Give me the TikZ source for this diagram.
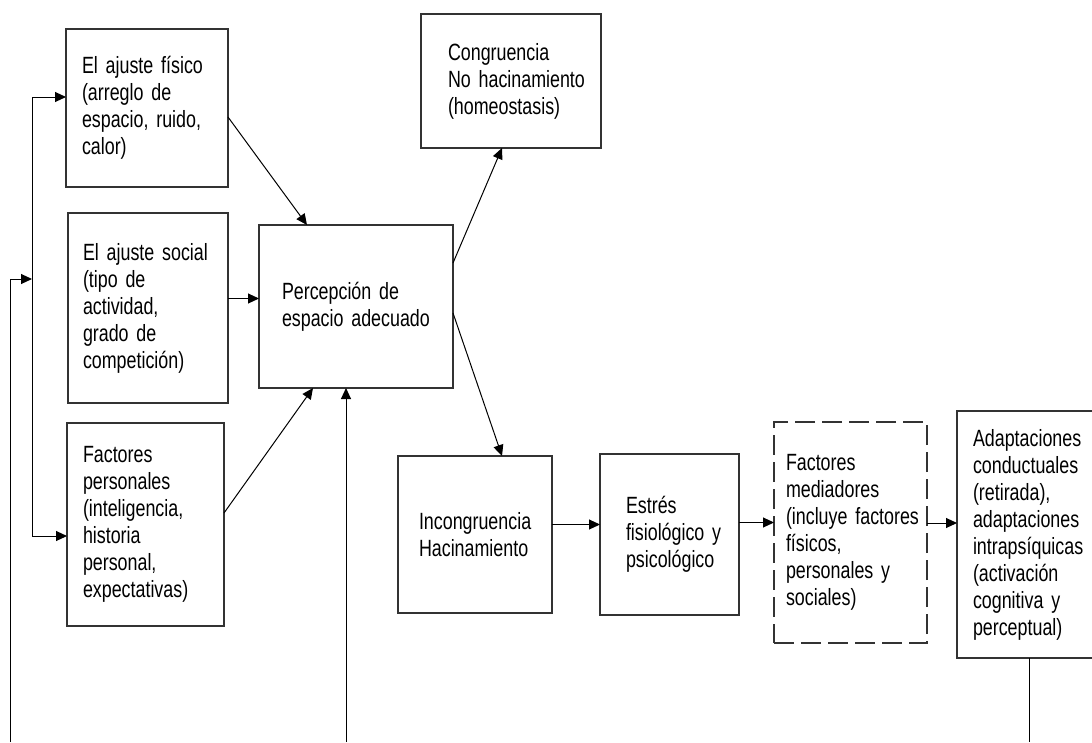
\documentclass[tikz,border=0pt]{standalone}
\usepackage{fontspec}
\setmainfont[FakeStretch=0.76]{Liberation Sans}
\usetikzlibrary{arrows.meta}
\hyphenpenalty=10000

\begin{document}
\begin{tikzpicture}[x=1pt,y=-1pt,>={Triangle[length=11pt,width=10pt]},
  line width=1pt,
  box/.style={draw=black!80,line width=1.3pt,anchor=north west,outer sep=0pt,
    align=left,inner ysep=2pt,font=\fontsize{23.5}{27}\selectfont},
  dashbox/.style={box,dash pattern=on 20pt off 7pt}]

    \useasboundingbox (0,0) rectangle (1092,742);

    % left column
    \node[box,inner xsep=16pt,text width=130pt,minimum height=158pt] (fis) at (66,29)
      {El ajuste físico\\(arreglo de\\espacio, ruido,\\calor)};
    \node[box,inner xsep=15pt,text width=130pt,minimum height=190pt] (soc) at (68,213)
      {El ajuste social\\(tipo de\\actividad,\\grado de\\competición)};
    \node[box,inner xsep=16pt,text width=125pt,minimum height=203pt] (per) at (67,423)
      {Factores\\personales\\(inteligencia,\\historia\\personal,\\expectativas)};

    % centre
    \node[box,inner xsep=23pt,text width=148pt,minimum height=163pt] (perc) at (259,225)
      {Percepción de\\espacio~adecuado};
    \node[box,inner xsep=27pt,text width=126pt,minimum height=134pt] (cong) at (421,14)
      {Congruencia\\No~hacinamiento\\(homeostasis)};
    \node[box,inner xsep=21pt,text width=112pt,minimum height=157pt] (incong) at (398,456)
      {Incongruencia\\Hacinamiento};

    % bottom row
    \node[box,inner xsep=26pt,text width=87pt,minimum height=161pt] (est) at (600,454)
      {Estrés\\fisiológico~y\\psicológico};
    \node[dashbox,inner xsep=12pt,text width=129pt,minimum height=221pt] (med) at (774,422)
      {Factores\\mediadores\\(incluye~factores\\físicos,\\personales~y\\sociales)};
    \node[box,inner xsep=16pt,text width=122pt,minimum height=247pt] (adapt) at (957,411)
      {Adaptaciones\\conductuales\\(retirada),\\adaptaciones\\intrapsíquicas\\(activación\\cognitiva~y\\perceptual)};

    % feedback lines
    \coordinate (feed) at (10,742);
    \coordinate (split) at (32,279);
    \coordinate (ltop) at (32,97);
    \coordinate (lbot) at (32,536);
    \coordinate (bot) at (346,742);
    \coordinate (adout) at (1029,742);

    \draw[->] (feed) |- (split);
    \draw[<->] (fis.west |- ltop) -- (ltop) -- (lbot) -- (per.west |- lbot);
    \draw[->] (bot) -- (bot |- perc.south);
    \draw (adout |- adapt.south) -- (adout);

    % arrows into perception
    \coordinate (socin) at ([yshift=8pt]perc.west);
    \draw[->] ([yshift=-9pt]fis.east) -- ([xshift=-49pt]perc.north);
    \draw[->] (soc.east |- socin) -- (socin);
    \draw[->] ([yshift=11.5pt]per.east) -- ([xshift=-43pt]perc.south);

    % out of perception
    \draw[->] ([yshift=43.5pt]perc.east) -- ([xshift=-9pt]cong.south);
    \draw[->] ([yshift=-6.5pt]perc.east) -- ([xshift=27pt]incong.north);

    % chain
    \coordinate (a1) at ([yshift=10pt]est.west);
    \coordinate (a2) at ([yshift=10pt]med.west);
    \coordinate (a3) at ([yshift=11.5pt]adapt.west);
    \draw[->] (incong.east |- a1) -- (a1);
    \draw[->] (est.east |- a2) -- (a2);
    \draw[->] (med.east |- a3) -- (a3);
\end{tikzpicture}
\end{document}
